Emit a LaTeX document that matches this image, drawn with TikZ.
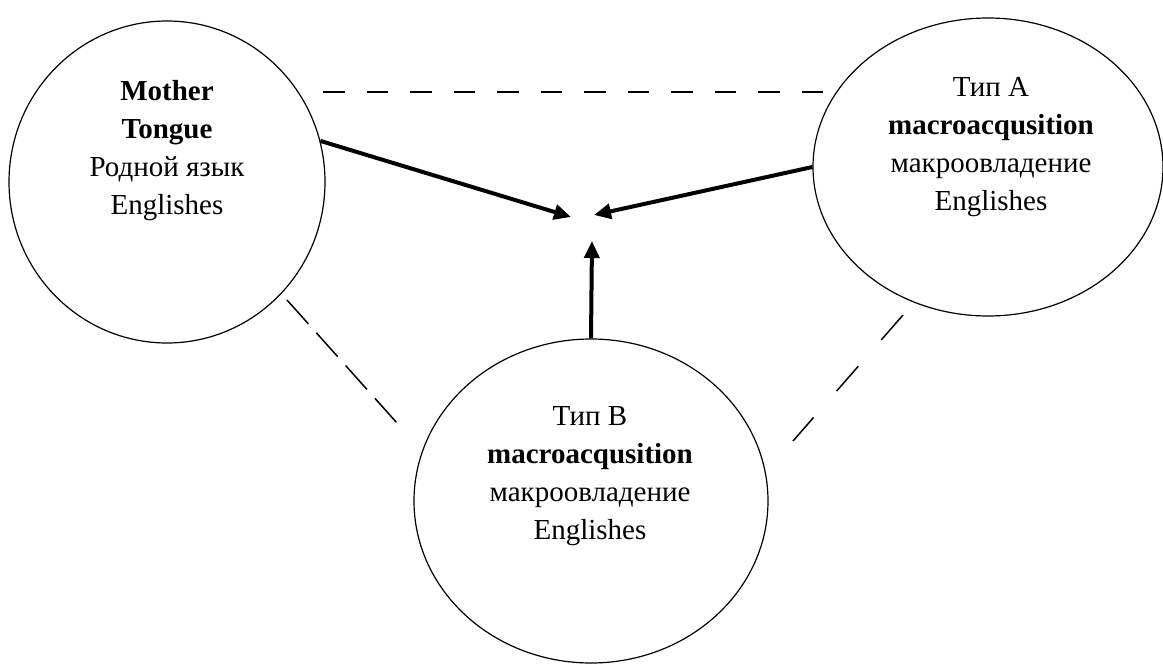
\documentclass[tikz,border=0pt]{standalone}
\usepackage{fontspec}
\setmainfont{Liberation Serif}
\usetikzlibrary{shapes.geometric,arrows.meta}
\begin{document}
\begin{tikzpicture}[x=1pt,y=-1pt,
  oval/.style={draw,ellipse,line width=1.2pt,inner sep=0pt},
  lbl/.style={anchor=base,inner sep=0pt,font=\fontsize{29}{38}\selectfont},
  thickarrow/.style={line width=4pt,-{Triangle[length=17pt,width=15pt]}},
  dashtop/.style={line width=2pt,dash pattern=on 21.5pt off 22pt},
  dashleft/.style={line width=1.5pt,dash pattern=on 32pt off 12pt},
  dashright/.style={line width=1.5pt,dash pattern=on 33pt off 35pt}]
\useasboundingbox (0,0) rectangle (1163,666);
% ellipses
\node[oval,minimum width=316pt,minimum height=322pt] (L) at (167,182) {};
\node[oval,minimum width=350pt,minimum height=298pt] (R) at (988,167) {};
\node[oval,minimum width=354pt,minimum height=324pt] (B) at (591,501) {};
% texts
\node[lbl] (Lt) at (167,101) {\begin{tabular}[t]{@{}c@{}}\textbf{Mother}\\ \textbf{Tongue}\\ Родной язык\\ Englishes\end{tabular}};
\node[lbl] (Rt) at (991,97) {\begin{tabular}[t]{@{}c@{}}Тип А\\ \textbf{macroacqusition}\\ макроовладение\\ Englishes\end{tabular}};
\node[lbl] (Bt) at (590,425) {\begin{tabular}[t]{@{}c@{}}Тип В\\ \textbf{macroacqusition}\\ макроовладение\\ Englishes\end{tabular}};
% arrow targets
\coordinate (tipL) at (571,217);
\coordinate (tipR) at (594,215);
\coordinate (tipB) at (592,241);
\draw[thickarrow] (L.15) -- (tipL);
\draw[thickarrow] (R.west) -- (tipR);
\draw[thickarrow] (B.north) -- (tipB);
% dashed lines
\coordinate (dt1) at (323,92);
\coordinate (dt2) at (838,92);
\coordinate (dl1) at (287,300);
\coordinate (dl2) at (397,423);
\coordinate (dr1) at (903,315);
\coordinate (dr2) at (793,441);
\draw[dashtop] (dt1) -- (dt2);
\draw[dashleft] (dl1) -- (dl2);
\draw[dashright] (dr1) -- (dr2);
\end{tikzpicture}
\end{document}
